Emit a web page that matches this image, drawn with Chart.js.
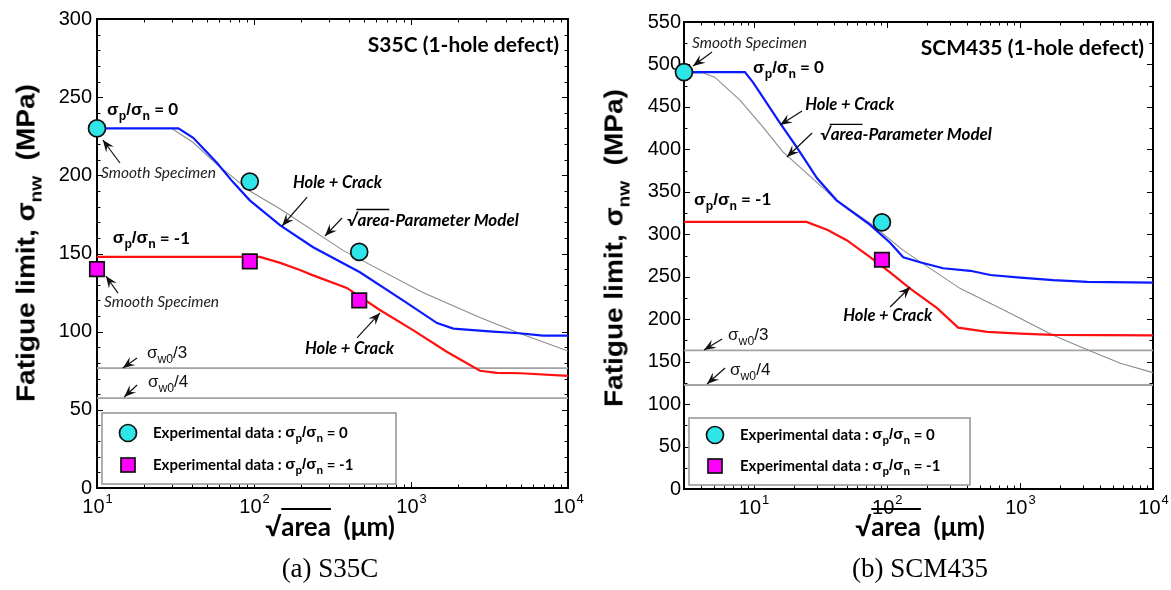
<!DOCTYPE html>
<html><head><meta charset="utf-8">
<script src="https://cdn.jsdelivr.net/npm/chart.js@4.4.1/dist/chart.umd.min.js"></script>
<style>
html,body{margin:0;padding:0;background:#fff;}
#wrap{position:relative;width:1171px;height:590px;overflow:hidden;background:#fff;}
canvas{position:absolute;top:0;}
.ytitle{position:absolute;font:bold 25px "Liberation Sans",Arial,sans-serif;white-space:nowrap;transform:translate(-50%,-50%) rotate(-90deg) scaleX(1.12);color:#000;}
.ytitle sub{font-size:17px;vertical-align:-7px;line-height:0;}
.xtitle{position:absolute;font:bold 26px Lato,"Liberation Sans",sans-serif;white-space:nowrap;transform:translate(-50%,-50%);color:#000;}
.xtitle .ov{text-decoration:overline;text-decoration-thickness:2px;}
.cap{position:absolute;font:27px "Liberation Serif","Times New Roman",serif;white-space:nowrap;transform:translate(-50%,-50%);color:#000;}
</style></head>
<body>
<div id="wrap">
  <canvas id="c1" width="585" height="590" style="left:0px"></canvas>
  <canvas id="c2" width="586" height="590" style="left:585px"></canvas>
  <div class="ytitle" style="left:26px;top:243px">Fatigue limit, σ<sub>nw</sub>&nbsp; (MPa)</div>
  <div class="ytitle" style="left:614px;top:248px">Fatigue limit, σ<sub>nw</sub>&nbsp; (MPa)</div>
  <div class="xtitle" style="left:330px;top:526px">√<span class="ov">area</span>&nbsp; (μm)</div>
  <div class="xtitle" style="left:920px;top:526px">√<span class="ov">area</span>&nbsp; (μm)</div>
  <div class="cap" style="left:330px;top:568px">(a) S35C</div>
  <div class="cap" style="left:920px;top:568px">(b) SCM435</div>
</div>
<script>
// ================= DATA =================
// (a) S35C
const s35cBlueX = [10, 33, 41, 58, 73, 94, 147, 238, 473, 889, 1466, 1862, 3320, 4900, 6900, 10000];
const s35cBlueY = [230, 230, 224, 208, 196, 184, 168, 154, 138, 120, 105.5, 102, 100, 99, 97.5, 97.5];
const s35cGrayX = [10, 30, 41, 58, 73, 94, 147, 369, 1190, 2750, 4900, 10000];
const s35cGrayY = [230, 230, 221, 207, 199, 190, 178.5, 152, 125, 109, 99, 87.6];
const s35cRedX  = [10, 109, 147, 196, 238, 390, 630, 1030, 1700, 2750, 3530, 5000, 10000];
const s35cRedY  = [147.8, 147.8, 144, 139.5, 136, 128, 114, 101, 87, 75, 73.6, 73.4, 71.7];
const s35cCircX = [10, 94, 468];
const s35cCircY = [230, 196, 151];
const s35cSqX   = [10, 94, 468];
const s35cSqY   = [140, 145, 120];
const s35cSigmaW0 = 230;
const s35cXRange = [10, 10000];
const s35cYRange = [0, 300];

// (b) SCM435
const scmBlueX = [3, 8.6, 9.9, 15.8, 21, 30, 42, 75, 106, 133, 178, 265, 424, 600, 1007, 1780, 3210, 10000];
const scmBlueY = [491, 491, 479, 431, 403, 366, 340, 311, 290, 273, 267, 260, 257, 252, 249, 246, 244, 243];
const scmGrayX = [3, 4.2, 5.1, 7.9, 11.8, 16.6, 25, 42, 75, 133, 357, 750, 1780, 3210, 5690, 10000];
const scmGrayY = [490, 490, 485, 458, 426, 397, 372, 340, 313, 281, 236, 211, 181, 164, 148, 137];
const scmRedX  = [3, 25, 36, 50, 75, 106, 150, 239, 344, 569, 1007, 1780, 10000];
const scmRedY  = [314.5, 314.5, 305, 293, 273, 255, 236, 213, 190, 185, 183, 181.5, 181];
const scmCircX = [3, 92];
const scmCircY = [491, 314];
const scmSqX   = [92];
const scmSqY   = [270];
const scmSigmaW0 = 490;
const scmXRange = [3, 10000];
const scmYRange = [0, 550];

// tick labels
const xTickExponents = [1, 2, 3, 4];
const s35cYStep = 50, s35cYMinor = 10;
const scmYStep = 50, scmYMinor = 25;

// ================= STYLE HELPERS =================
const LS = '"Liberation Sans", Arial, sans-serif';
const LATO = 'Lato, "Liberation Sans", sans-serif';

function P(xs, ys){ return xs.map((x,i)=>({x:x, y:ys[i]})); }
function H(v, xr){ return [{x:xr[0], y:v}, {x:xr[1], y:v}]; }

function lineDS(data, color, width, order){
  return {type:'scatter', data, showLine:true, borderColor:color, backgroundColor:color, borderWidth:width,
          pointRadius:0, pointHoverRadius:0, fill:false, tension:0, order};
}
function markDS(data, style, fill, radius){
  return {type:'scatter', data, showLine:false, pointStyle:style, pointRadius:radius, pointHoverRadius:radius,
          backgroundColor:fill, borderColor:'#111', borderWidth:1.7, order:0, clip:false};
}

const SIG0 = [{t:'σ',fam:LS},{t:'p',sub:1,fam:LS},{t:'/',fam:LS},{t:'σ',fam:LS},{t:'n',sub:1,fam:LS},{t:' = 0',fam:LATO}];
const SIGM1 = [{t:'σ',fam:LS},{t:'p',sub:1,fam:LS},{t:'/',fam:LS},{t:'σ',fam:LS},{t:'n',sub:1,fam:LS},{t:' = -1',fam:LATO}];
const SQRT_MODEL = [{t:'√',fam:LATO},{t:'area',fam:LATO,ov:1},{t:'-Parameter Model',fam:LATO}];
const SW3 = [{t:'σ',fam:LS},{t:'w0',sub:1,fam:LS},{t:'/3',fam:LS}];
const SW4 = [{t:'σ',fam:LS},{t:'w0',sub:1,fam:LS},{t:'/4',fam:LS}];
const LEG0 = [{t:'Experimental data : ',fam:LATO},{t:'σ',fam:LS},{t:'p',sub:1,fam:LS},{t:'/',fam:LS},{t:'σ',fam:LS},{t:'n',sub:1,fam:LS},{t:' = 0',fam:LATO}];
const LEGM1 = [{t:'Experimental data : ',fam:LATO},{t:'σ',fam:LS},{t:'p',sub:1,fam:LS},{t:'/',fam:LS},{t:'σ',fam:LS},{t:'n',sub:1,fam:LS},{t:' = -1',fam:LATO}];

function segFont(s, o){
  const size = s.sub ? o.size*0.72 : o.size;
  return `${o.style||'normal'} ${o.weight||'normal'} ${size}px ${s.fam||LS}`;
}
function richWidth(ctx, segs, o){
  let w=0; segs.forEach(s=>{ctx.font=segFont(s,o); w+=ctx.measureText(s.t).width;}); return w;
}
function drawRich(ctx, x, y, segs, o){
  ctx.textBaseline='middle'; ctx.textAlign='left'; ctx.fillStyle=o.color||'#000';
  if(o.align==='right') x -= richWidth(ctx, segs, o);
  segs.forEach(s=>{
    ctx.font=segFont(s,o);
    const w=ctx.measureText(s.t).width;
    const dy = s.sub ? o.size*0.38 : 0;
    ctx.fillText(s.t, x, y+dy);
    if(s.ov){
      ctx.save(); ctx.strokeStyle=o.color||'#000'; ctx.lineWidth=1.3;
      ctx.beginPath(); ctx.moveTo(x-1, y-o.size*0.62); ctx.lineTo(x+w, y-o.size*0.62); ctx.stroke(); ctx.restore();
    }
    x+=w;
  });
}
function drawArrow(ctx, x1,y1,x2,y2){
  ctx.save(); ctx.strokeStyle='#111'; ctx.fillStyle='#111'; ctx.lineWidth=1.2;
  ctx.beginPath(); ctx.moveTo(x1,y1); ctx.lineTo(x2,y2); ctx.stroke();
  const ang=Math.atan2(y2-y1,x2-x1), L=12, W=4.8;
  const c=Math.cos(ang), s=Math.sin(ang);
  const bx=x2-L*c, by=y2-L*s, mx=x2-0.62*L*c, my=y2-0.62*L*s;
  ctx.beginPath(); ctx.moveTo(x2,y2); ctx.lineTo(bx-s*W, by+c*W); ctx.lineTo(mx,my); ctx.lineTo(bx+s*W, by-c*W); ctx.closePath(); ctx.fill();
  ctx.restore();
}

const decor = {
  id:'decor',
  beforeDatasetsDraw(chart){
    const o=chart.options.plugins.decor, ctx=chart.ctx, a=chart.chartArea, xs=chart.scales.x, ys=chart.scales.y;
    ctx.save();
    ctx.strokeStyle='#000'; ctx.lineWidth=1;
    const lo=Math.floor(Math.log10(xs.min)), hi=Math.ceil(Math.log10(xs.max));
    for(let d=lo; d<=hi; d++){
      for(let m=1;m<10;m++){
        const v=m*Math.pow(10,d);
        if(v<xs.min*0.999||v>xs.max*1.001) continue;
        const px=Math.round(xs.getPixelForValue(v))+0.5, L=(m===1)?6:3.5;
        ctx.beginPath(); ctx.moveTo(px,a.bottom); ctx.lineTo(px,a.bottom-L);
        ctx.moveTo(px,a.top); ctx.lineTo(px,a.top+L); ctx.stroke();
      }
    }
    for(let v=ys.min; v<=ys.max+1e-6; v+=o.yMinor){
      const py=Math.round(ys.getPixelForValue(v))+0.5;
      const major=Math.abs(v/o.yMajor-Math.round(v/o.yMajor))<1e-6, L=major?6:3.5;
      ctx.beginPath(); ctx.moveTo(a.left,py); ctx.lineTo(a.left+L,py);
      ctx.moveTo(a.right,py); ctx.lineTo(a.right-L,py); ctx.stroke();
    }
    ctx.lineWidth=2; ctx.strokeRect(a.left, a.top, a.right-a.left, a.bottom-a.top);
    // x tick labels 10^n
    ctx.fillStyle='#000'; ctx.textBaseline='alphabetic'; ctx.textAlign='left';
    xTickExponents.forEach(e=>{
      const v=Math.pow(10,e); if(v<xs.min*0.999||v>xs.max*1.001) return;
      const px=xs.getPixelForValue(v);
      ctx.font=`20px ${LS}`; const w1=ctx.measureText('10').width;
      ctx.font=`13px ${LS}`; const w2=ctx.measureText(String(e)).width;
      const x0=px-(w1+w2)/2;
      ctx.font=`20px ${LS}`; ctx.fillText('10', x0, a.bottom+25);
      ctx.font=`13px ${LS}`; ctx.fillText(String(e), x0+w1+1, a.bottom+15);
    });
    ctx.restore();
  },
  afterDatasetsDraw(chart){
    const o=chart.options.plugins.decor, ctx=chart.ctx, a=chart.chartArea, xs=chart.scales.x, ys=chart.scales.y;
    const X=v=>xs.getPixelForValue(v), Y=v=>ys.getPixelForValue(v);
    ctx.save();
    o.notes.forEach(n=>{
      if(n.k==='arrow') drawArrow(ctx, X(n.x1),Y(n.y1),X(n.x2),Y(n.y2));
      else if(n.k==='text'){ ctx.font=n.f; ctx.fillStyle=n.c||'#000'; ctx.textBaseline='middle'; ctx.textAlign='left'; ctx.fillText(n.t, X(n.x), Y(n.y)); }
      else if(n.k==='rich') drawRich(ctx, X(n.x), Y(n.y), n.segs, n.o);
    });
    // panel title
    drawRich(ctx, a.right-9, a.top+26, [{t:o.title,fam:LATO}], {size:21, weight:'bold', align:'right'});
    // legend box
    const L=o.leg;
    const lx=a.left+5, lw=L.w, lb=a.bottom-4, lt=a.bottom-L.top;
    ctx.fillStyle='#fff'; ctx.fillRect(lx, lt, lw, lb-lt);
    ctx.strokeStyle='#9a9a9a'; ctx.lineWidth=1.6; ctx.strokeRect(lx, lt, lw, lb-lt);
    const r1=a.bottom-L.r1, r2=a.bottom-L.r2, mxp=a.left+31;
    ctx.beginPath(); ctx.arc(mxp, r1, 8.5, 0, Math.PI*2); ctx.fillStyle='#2ee6ea'; ctx.fill();
    ctx.strokeStyle='#111'; ctx.lineWidth=1.7; ctx.stroke();
    ctx.fillStyle='#ff00ff'; ctx.fillRect(mxp-7, r2-7, 14, 14); ctx.strokeRect(mxp-7, r2-7, 14, 14);
    drawRich(ctx, a.left+56, r1, LEG0, {size:15, weight:'bold'});
    drawRich(ctx, a.left+56, r2, LEGM1, {size:15, weight:'bold'});
    ctx.restore();
  }
};

const NOTE_IT = `italic 15.5px ${LATO}`;
const NOTE_BI = `italic bold 16.5px ${LATO}`;
const OSIG = {size:17, weight:'bold'};
const OSQ = {size:17, weight:'bold', style:'italic'};
const OSW = {size:17, weight:'normal', color:'#111'};

const s35cNotes = [
  {k:'rich', x:11.6, y:241.8, segs:SIG0, o:OSIG},
  {k:'text', x:10.6, y:201.5, t:'Smooth Specimen', f:NOTE_IT, c:'#222'},
  {k:'arrow', x1:14.0, y1:207.9, x2:10.9, y2:222.6},
  {k:'text', x:177, y:195.1, t:'Hole + Crack', f:NOTE_BI},
  {k:'arrow', x1:218, y1:186.1, x2:151, y2:167.6},
  {k:'rich', x:391, y:171.4, segs:SQRT_MODEL, o:OSQ},
  {k:'arrow', x1:364, y1:172.7, x2:283, y2:161.2},
  {k:'rich', x:12.6, y:159.9, segs:SIGM1, o:OSIG},
  {k:'text', x:11.1, y:119, t:'Smooth Specimen', f:NOTE_IT, c:'#222'},
  {k:'arrow', x1:13.6, y1:124.7, x2:11.4, y2:135.6},
  {k:'text', x:211, y:88.9, t:'Hole + Crack', f:NOTE_BI},
  {k:'arrow', x1:453, y1:96, x2:635, y2:112},
  {k:'rich', x:20.8, y:86.4, segs:SW3, o:OSW},
  {k:'arrow', x1:18, y1:83.2, x2:14.6, y2:76.8},
  {k:'rich', x:21.1, y:67.8, segs:SW4, o:OSW},
  {k:'arrow', x1:18, y1:65.9, x2:14.9, y2:58.2}
];
const scmNotes = [
  {k:'text', x:3.45, y:525.3, t:'Smooth Specimen', f:NOTE_IT, c:'#222'},
  {k:'arrow', x1:4.87, y1:514.7, x2:3.51, y2:498.2},
  {k:'rich', x:9.9, y:495.9, segs:SIG0, o:OSIG},
  {k:'text', x:24.4, y:452.3, t:'Hole + Crack', f:NOTE_BI},
  {k:'arrow', x1:23.1, y1:445.2, x2:15.8, y2:428.7},
  {k:'rich', x:31.6, y:417, segs:SQRT_MODEL, o:OSQ},
  {k:'arrow', x1:27.5, y1:419.3, x2:17.8, y2:391},
  {k:'rich', x:3.57, y:340.4, segs:SIGM1, o:OSIG},
  {k:'text', x:47.1, y:203.8, t:'Hole + Crack', f:NOTE_BI},
  {k:'arrow', x1:106, y1:214.4, x2:150, y2:237.9},
  {k:'rich', x:6.43, y:181.4, segs:SW3, o:OSW},
  {k:'arrow', x1:5.8, y1:176.7, x2:4.24, y2:163.7},
  {k:'rich', x:6.65, y:140.2, segs:SW4, o:OSW},
  {k:'arrow', x1:6.1, y1:142.5, x2:4.47, y2:123.7}
];

function makeChart(id, d){
  return new Chart(document.getElementById(id), {
    type:'scatter',
    data:{datasets:[
      markDS(P(d.cx,d.cy),'circle','#2ee6ea',8.5),
      markDS(P(d.sx,d.sy),'rect','#ff00ff',10.2),
      lineDS(P(d.bx,d.by),'#0a1aff',2.2,1),
      lineDS(P(d.rx,d.ry),'#ff1010',2.2,2),
      lineDS(P(d.gx,d.gy),'#8c8c8c',1.1,3),
      lineDS(H(d.w0/3,d.xr),'#a3a3a3',1.8,4),
      lineDS(H(d.w0/4,d.xr),'#a3a3a3',1.8,4)
    ]},
    options:{
      responsive:false, animation:false, events:[],
      layout:{padding:d.pad},
      plugins:{legend:{display:false}, tooltip:{enabled:false},
        decor:{yMinor:d.yMinor, yMajor:d.yStep, notes:d.notes, title:d.title, leg:d.leg}},
      scales:{
        x:{type:'logarithmic', min:d.xr[0], max:d.xr[1], grid:{display:false, drawTicks:false}, border:{display:false},
           ticks:{display:false}, afterFit:s=>{s.height=30;}},
        y:{type:'linear', min:d.yr[0], max:d.yr[1], grid:{display:false, drawTicks:false}, border:{display:false},
           ticks:{stepSize:d.yStep, padding:d.tpad, color:'#000', font:{family:'"Liberation Sans", Arial, sans-serif', size:20}},
           afterFit:s=>{s.width=d.yw;}}
      }
    },
    plugins:[decor]
  });
}

makeChart('c1', {cx:s35cCircX, cy:s35cCircY, sx:s35cSqX, sy:s35cSqY, bx:s35cBlueX, by:s35cBlueY,
  rx:s35cRedX, ry:s35cRedY, gx:s35cGrayX, gy:s35cGrayY, w0:s35cSigmaW0, xr:s35cXRange, yr:s35cYRange,
  yStep:s35cYStep, yMinor:s35cYMinor, notes:s35cNotes, title:'S35C (1-hole defect)',
  leg:{w:294, top:75, r1:55, r2:23},
  pad:{left:0, right:17, top:19, bottom:72}, yw:97, tpad:5});
makeChart('c2', {cx:scmCircX, cy:scmCircY, sx:scmSqX, sy:scmSqY, bx:scmBlueX, by:scmBlueY,
  rx:scmRedX, ry:scmRedY, gx:scmGrayX, gy:scmGrayY, w0:scmSigmaW0, xr:scmXRange, yr:scmYRange,
  yStep:scmYStep, yMinor:scmYMinor, notes:scmNotes, title:'SCM435 (1-hole defect)',
  leg:{w:281, top:71, r1:54, r2:23},
  pad:{left:0, right:18, top:22, bottom:71}, yw:99, tpad:3});
</script>
</body></html>
